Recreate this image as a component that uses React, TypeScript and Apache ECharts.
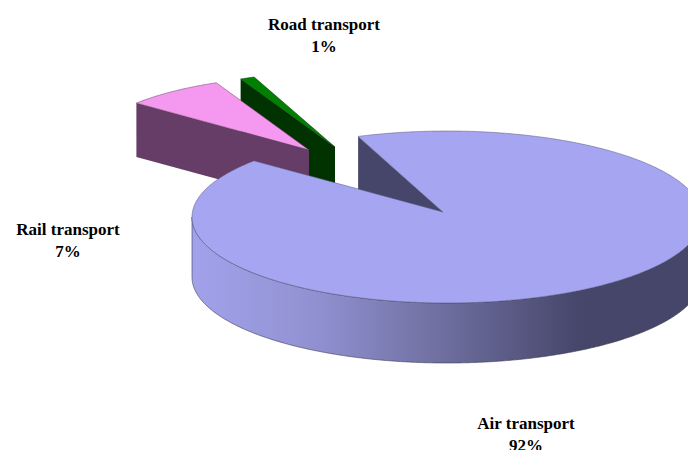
import React, { useEffect, useRef } from "react";
import * as echarts from "echarts";

const categories = ["Air transport", "Rail transport", "Road transport"];
const shares = [92, 7, 1];
const topColors = ["#A5A5F2", "#F598EF", "#008000"];
const wallColors = ["#46466B", "#663D66", "#003300"];
const paintOrder = [2, 1, 0];

// Drawing geometry per slice: ellipse centre, radii, apex, wall depth, label centre
const cxs = [447, 309, 335];
const cys = [217, 154, 152];
const rxs = [255, 228, 232];
const rys = [86, 78, 80];
const apexX = [443, 309, 335];
const apexY = [212, 150, 147];
const depths = [60, 54, 56];
const labelX = [526, 68, 324];
const labelY = [434, 240, 35];
const startAngle = 249.6;

function sliceAngles(i: number) {
  const total = shares.reduce((a, b) => a + b, 0);
  let before = 0;
  for (let k = 0; k < i; k++) before += shares[k];
  const a0 = startAngle + (before / total) * 360;
  return [a0, a0 + (shares[i] / total) * 360];
}

function pt(i: number, deg: number, dy = 0): number[] {
  const t = (deg * Math.PI) / 180;
  return [cxs[i] + rxs[i] * Math.cos(t), cys[i] + rys[i] * Math.sin(t) + dy];
}

function arc(i: number, from: number, to: number, dy = 0) {
  const out: number[][] = [];
  const n = Math.max(2, Math.ceil(Math.abs(to - from) * 2));
  for (let k = 0; k <= n; k++) out.push(pt(i, from + ((to - from) * k) / n, dy));
  return out;
}

function renderItem(params: any, api: any) {
  const i = api.value(0);
  const [a0, a1] = sliceAngles(i);
  const children: any[] = [];
  const d = depths[i];
  const apex = [apexX[i], apexY[i]];

  if (i === 0) {
    // inner wall seen through the gap
    const e = pt(i, a0);
    children.push({
      type: "polygon",
      shape: { points: [e, apex, [apex[0], apex[1] + d], [e[0], e[1] + d]] },
      style: { fill: wallColors[i] },
    });
    // front rim with a light-to-dark sweep
    const top = arc(i, 0, 180);
    const bottom = arc(i, 180, 0, d);
    children.push({
      type: "polygon",
      shape: { points: top.concat(bottom) },
      style: {
        fill: {
          type: "linear",
          x: 192,
          y: 0,
          x2: 702,
          y2: 0,
          global: true,
          colorStops: [
            { offset: 0, color: "#A2A2EC" },
            { offset: 0.25, color: "#9090D0" },
            { offset: 0.5, color: "#6D6D9E" },
            { offset: 0.76, color: "#46466B" },
            { offset: 1, color: "#46466B" },
          ],
        },
        stroke: "#3A3A50",
        lineWidth: 0.6,
      },
    });
  } else {
    const e = pt(i, a0);
    children.push({
      type: "polygon",
      shape: { points: [e, apex, [apex[0], apex[1] + d], [e[0], e[1] + d]] },
      style: { fill: wallColors[i] },
    });
  }

  children.push({
    type: "polygon",
    shape: { points: [apex as number[]].concat(arc(i, a0, a1)) },
    style: {
      fill: topColors[i],
      stroke: i === 0 ? "#55557A" : wallColors[i],
      lineWidth: 0.5,
    },
  });

  children.push({
    type: "text",
    style: {
      x: labelX[i],
      y: labelY[i],
      text: `${categories[i]}\n${shares[i]}%`,
      fill: "#000000",
      font: 'bold 17px "Liberation Serif"',
      align: "center",
      verticalAlign: "middle",
      lineHeight: 22,
    },
  });

  return { type: "group", children };
}

export default function App() {
  const ref = useRef<HTMLDivElement>(null);
  useEffect(() => {
    document.body.style.margin = "0";
    const chart = echarts.init(ref.current!, null, { renderer: "svg" });
    chart.setOption({
      animation: false,
      backgroundColor: "#ffffff",
      series: [
        {
          type: "custom",
          coordinateSystem: "none",
          renderItem,
          clip: false,
          encode: { value: 0 },
          data: paintOrder.map((i) => [i]),
        },
      ],
    });
    return () => chart.dispose();
  }, []);
  return <div ref={ref} style={{ width: 688, height: 450 }} />;
}
